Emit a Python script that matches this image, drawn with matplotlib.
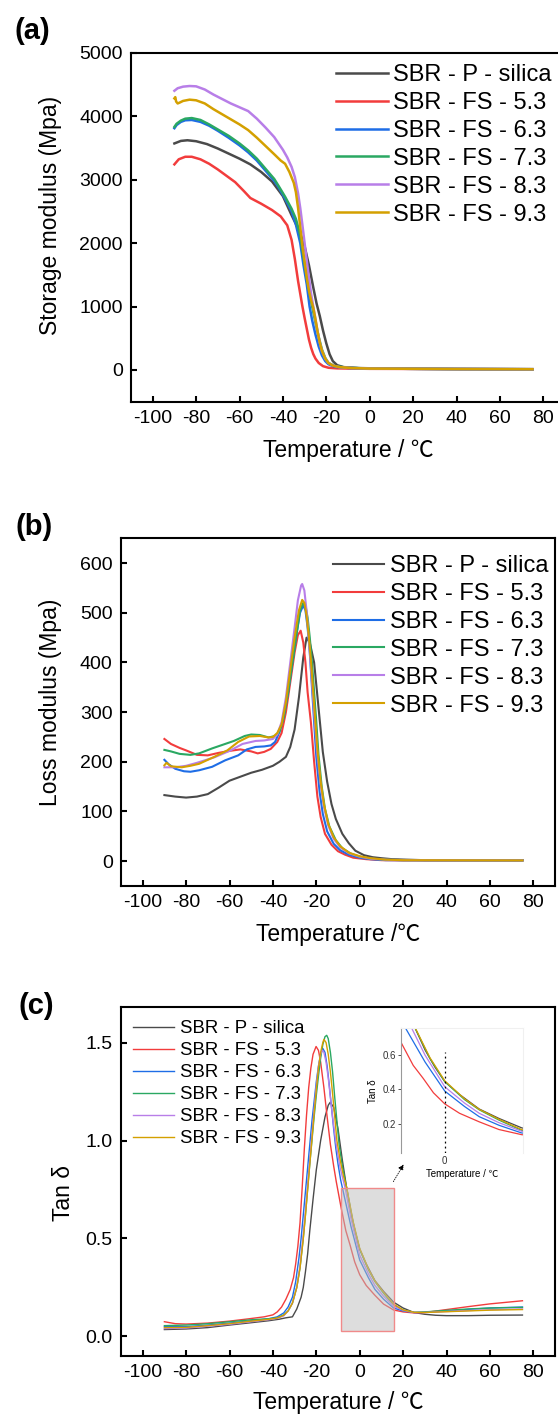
import matplotlib
matplotlib.use("Agg")
import matplotlib.pyplot as plt
from matplotlib.patches import Rectangle, FancyArrowPatch

plt.rcParams['font.family'] = ['Liberation Sans', 'Noto Sans CJK SC', 'DejaVu Sans']
plt.rcParams['axes.unicode_minus'] = False

## Sample names and colours
names = ["SBR - P - silica", "SBR - FS - 5.3", "SBR - FS - 6.3",
         "SBR - FS - 7.3", "SBR - FS - 8.3", "SBR - FS - 9.3"]
colors = ["#4a4a4a", "#f23c3c", "#1e6de6", "#2aa862", "#b87ee8", "#d4a000"]

## (a) storage modulus (MPa) vs temperature (C)
a_T_p = [-90, -87, -84, -80, -75, -70, -65, -60, -55, -50, -45, -40, -36, -34, -32, -30, -28, -26, -24.5, -23, -21.5, -20, -18.5, -17, -15, -12, -5, 10, 40, 75]
a_E_p = [3570, 3610, 3620, 3605, 3560, 3490, 3410, 3330, 3240, 3120, 2970, 2740, 2440, 2300, 2150, 1950, 1650, 1300, 1050, 850, 620, 420, 250, 140, 75, 45, 30, 20, 15, 12]
a_T_53 = [-90, -88, -85, -82, -78, -74, -70, -66, -62, -58, -55, -50, -45, -41, -38, -36, -34.5, -33, -32, -31, -30, -29, -28, -27, -26, -25, -23.5, -21.5, -19, -15, 0, 40, 75]
a_E_53 = [3240, 3320, 3360, 3360, 3320, 3250, 3160, 3060, 2960, 2820, 2710, 2620, 2520, 2420, 2280, 2050, 1750, 1400, 1200, 1000, 820, 650, 480, 350, 250, 180, 110, 60, 35, 25, 18, 15, 12]
a_T_63 = [-90, -89, -87, -85, -82, -78, -74, -70, -65, -60, -56, -52, -48, -44, -42, -39, -36, -34, -32, -30.5, -29, -27.7, -26.5, -25, -23.5, -22, -20.5, -19, -16, -10, 0, 40, 75]
a_E_63 = [3810, 3860, 3910, 3935, 3940, 3910, 3850, 3770, 3660, 3540, 3430, 3300, 3140, 2980, 2880, 2700, 2500, 2290, 2000, 1650, 1350, 1000, 780, 560, 370, 230, 140, 90, 50, 32, 22, 15, 12]
a_T_73 = [-90, -89, -87, -85, -82, -78, -74, -70, -65, -60, -56, -52, -48, -44, -42, -39, -36, -34, -32, -30.5, -29, -27.5, -26.5, -25, -23.5, -22, -20.5, -19, -16, -10, 0, 40, 75]
a_E_73 = [3830, 3880, 3930, 3960, 3970, 3940, 3870, 3790, 3690, 3570, 3460, 3330, 3170, 3010, 2900, 2730, 2540, 2380, 2120, 1780, 1450, 1180, 1000, 750, 520, 320, 190, 110, 60, 35, 22, 15, 12]
a_T_83 = [-90, -88.5, -86, -83, -80, -76, -72, -68, -64, -60, -56, -52, -48, -44, -42, -40, -38, -36, -34.5, -33, -32, -31, -30, -29, -28, -27, -26, -25, -24, -23, -22, -20.5, -19, -17, -14, -8, 0, 40, 75]
a_E_83 = [4400, 4440, 4465, 4475, 4470, 4420, 4340, 4270, 4200, 4140, 4080, 3960, 3820, 3670, 3570, 3470, 3350, 3200, 3040, 2780, 2550, 2280, 2000, 1720, 1450, 1200, 1000, 800, 600, 430, 300, 180, 110, 70, 45, 30, 22, 15, 12]
a_T_93 = [-90, -89.6, -89.2, -88.5, -87.5, -86, -83, -80, -76, -72, -68, -64, -60, -56, -52, -48, -44, -41, -39, -37, -35, -34, -33, -32, -31, -30, -29, -28, -27, -26, -25, -24, -23, -22, -20.5, -19, -17, -14, -8, 0, 40, 75]
a_E_93 = [4280, 4300, 4230, 4200, 4215, 4240, 4260, 4250, 4200, 4110, 4030, 3950, 3870, 3780, 3660, 3530, 3400, 3300, 3250, 3120, 2950, 2800, 2550, 2250, 1950, 1700, 1450, 1250, 1100, 980, 800, 600, 430, 300, 180, 110, 70, 45, 30, 22, 15, 12]

## (b) loss modulus (MPa) vs temperature (C)
b_T_p = [-90, -85, -80, -75, -70, -65, -60, -55, -50, -45, -40, -37, -34, -32, -30, -28, -26, -24.5, -23, -21, -19, -17, -15, -13, -11, -8, -5, -2, 2, 6, 10, 15, 22, 30, 50, 75]
b_E_p = [133, 130, 128, 130, 135, 148, 162, 170, 178, 184, 192, 200, 210, 230, 265, 330, 410, 450, 440, 400, 310, 220, 160, 115, 85, 55, 36, 21, 12, 8, 6, 4, 3, 2, 2, 2]
b_T_53 = [-90, -87, -83, -80, -75, -70, -65, -60, -55, -50, -47, -44, -41, -38, -36, -34, -32, -30, -28.5, -27.2, -26, -25, -24, -22.5, -21, -19.5, -18, -16, -13, -10, -6.7, -3, 3, 10, 20, 75]
b_E_53 = [246, 236, 228, 223, 214, 213, 218, 222, 225, 221, 217, 220, 226, 240, 258, 300, 360, 420, 455, 464, 440, 400, 340, 280, 200, 130, 89, 55, 33, 20, 13, 7, 4, 2, 1.5, 1.5]
b_T_63 = [-90, -88, -85, -81, -78, -74, -68, -62, -56, -52, -48, -44, -41, -39, -37, -35, -33, -31, -29, -27.5, -26, -25, -24, -23, -22, -21, -20, -18.5, -17, -15, -12, -9, -5, 0, 5, 12, 75]
b_E_63 = [204, 195, 186, 181, 180, 183, 190, 203, 213, 225, 230, 231, 233, 240, 260, 290, 340, 400, 460, 500, 515, 505, 470, 420, 350, 280, 210, 140, 95, 60, 35, 22, 13, 7, 4, 2, 1.5]
b_T_73 = [-90, -87, -83, -78, -74, -68, -64, -58, -53, -50, -46, -42, -39, -37, -35, -33, -31, -29, -27.5, -26, -25, -24, -23, -22, -21, -20, -19, -17.5, -16, -14, -11, -8, -4, 0, 5, 12, 20, 75]
b_E_73 = [224, 221, 216, 214, 217, 227, 233, 242, 252, 255, 254, 249, 252, 260, 290, 340, 400, 460, 505, 520, 515, 490, 450, 400, 340, 280, 215, 150, 105, 70, 42, 26, 15, 9, 5, 3, 2, 1.5]
b_T_83 = [-90, -85, -80, -75, -67, -60, -54, -48, -44, -40, -38, -36, -34, -32, -30, -28.5, -27, -26.5, -25.5, -24.5, -23.5, -22.5, -21.5, -20.5, -19.5, -18, -16.5, -14.5, -12, -9, -5, 0, 5, 12, 20, 75]
b_E_83 = [189, 189, 192, 198, 209, 222, 236, 242, 243, 246, 255, 280, 330, 400, 470, 525, 555, 558, 545, 505, 450, 390, 330, 270, 215, 155, 110, 72, 45, 28, 16, 9, 5, 3, 2, 1.5]
b_T_93 = [-90, -89, -87, -82, -78, -74, -67, -61, -56, -51, -46, -42, -40, -38, -36, -34, -32, -30, -28, -26.5, -25.5, -24.5, -23.5, -22.5, -21.5, -20.5, -19.5, -18, -16.5, -14.5, -12, -9, -5, 0, 5, 12, 20, 75]
b_E_93 = [193, 198, 191, 189, 192, 196, 210, 223, 240, 251, 252, 249, 250, 258, 275, 320, 385, 450, 505, 526, 520, 495, 455, 405, 345, 285, 225, 160, 115, 75, 48, 30, 17, 10, 6, 3, 2, 1.5]

## (c) tan delta vs temperature (C)
c_T_p = [-90, -80, -70, -60, -50, -42, -37, -34, -31, -29, -27, -26, -25, -24, -23, -21.5, -20, -18, -16, -14.5, -13.6, -12, -10, -8, -6, -4, -2, 0, 3, 7, 11, 15.6, 20, 25, 30, 35, 40, 50, 60, 75]
c_D_p = [0.035, 0.038, 0.045, 0.058, 0.07, 0.08, 0.088, 0.095, 0.1, 0.14, 0.2, 0.25, 0.33, 0.42, 0.54, 0.7, 0.85, 1.0, 1.12, 1.18, 1.195, 1.17, 1.06, 0.9, 0.757, 0.63, 0.53, 0.445, 0.37, 0.285, 0.23, 0.175, 0.145, 0.122, 0.113, 0.108, 0.106, 0.106, 0.108, 0.109]
c_T_53 = [-90, -85, -80, -70, -60, -51, -44, -40, -38, -36, -34, -32, -30.5, -29.5, -28.5, -27.5, -26.5, -25.5, -24.5, -23.5, -22.5, -21.5, -20.1, -19, -18, -16.5, -15, -13.5, -12, -10.8, -8.7, -6.4, -4.4, -2.3, 0, 3, 7, 11, 15.6, 20, 25, 30, 40, 50, 60, 75]
c_D_53 = [0.075, 0.065, 0.063, 0.068, 0.078, 0.09, 0.1, 0.11, 0.125, 0.15, 0.19, 0.24, 0.3, 0.37, 0.46, 0.58, 0.76, 0.96, 1.13, 1.27, 1.37, 1.44, 1.48, 1.46, 1.4, 1.27, 1.12, 0.98, 0.87, 0.79, 0.665, 0.54, 0.465, 0.38, 0.315, 0.26, 0.21, 0.165, 0.135, 0.125, 0.12, 0.122, 0.137, 0.152, 0.166, 0.182]
c_T_63 = [-90, -80, -70, -60, -50, -42, -38, -35, -33, -31, -29.5, -28, -27, -26, -25, -24, -23, -22, -21, -20, -19, -18, -17, -16, -15, -14, -13, -12, -11, -10, -8.8, -7.6, -4, 0, 4, 7, 11, 15.6, 20, 25, 30, 40, 50, 60, 75]
c_D_63 = [0.05, 0.05, 0.058, 0.068, 0.08, 0.09, 0.1, 0.12, 0.15, 0.2, 0.28, 0.4, 0.5, 0.62, 0.74, 0.86, 0.98, 1.1, 1.2, 1.3, 1.38, 1.44, 1.47, 1.45, 1.38, 1.28, 1.17, 1.06, 0.96, 0.88, 0.8, 0.74, 0.56, 0.39, 0.3, 0.24, 0.19, 0.145, 0.13, 0.122, 0.123, 0.13, 0.138, 0.145, 0.15]
c_T_73 = [-90, -80, -70, -60, -50, -42, -38, -35, -33, -31, -29, -27.5, -26, -25, -24, -23, -22, -21, -20, -19, -18, -17, -16, -15.2, -14.5, -13.5, -12.5, -11.5, -10.5, -9.5, -8, -6, -3, 0, 4, 7, 11, 15.6, 20, 25, 30, 40, 50, 60, 75]
c_D_73 = [0.055, 0.058, 0.065, 0.075, 0.085, 0.09, 0.095, 0.11, 0.13, 0.17, 0.25, 0.35, 0.5, 0.62, 0.75, 0.88, 1.0, 1.12, 1.23, 1.33, 1.42, 1.49, 1.53, 1.537, 1.52, 1.45, 1.35, 1.22, 1.1, 0.98, 0.87, 0.757, 0.58, 0.445, 0.34, 0.28, 0.22, 0.16, 0.135, 0.123, 0.125, 0.133, 0.14, 0.145, 0.148]
c_T_83 = [-90, -80, -70, -60, -50, -42, -38, -35, -33, -31, -29, -27.5, -26, -25, -24, -23, -22, -21, -20, -19, -18, -17.4, -16.5, -15.5, -14.5, -13.5, -12.5, -11, -9, -6.7, -4, 0, 4, 7, 11, 15.6, 20, 25, 30, 40, 50, 60, 75]
c_D_83 = [0.04, 0.043, 0.052, 0.062, 0.075, 0.085, 0.092, 0.105, 0.13, 0.17, 0.25, 0.36, 0.52, 0.64, 0.77, 0.9, 1.03, 1.16, 1.28, 1.38, 1.44, 1.462, 1.45, 1.4, 1.32, 1.22, 1.12, 0.99, 0.86, 0.757, 0.6, 0.415, 0.32, 0.26, 0.205, 0.155, 0.133, 0.122, 0.122, 0.127, 0.132, 0.136, 0.14]
c_T_93 = [-90, -80, -70, -60, -50, -42, -38, -35, -33, -31, -29, -27.5, -26, -25, -24, -23, -22, -21, -20, -19, -18, -17, -16.5, -15.5, -14.5, -13.5, -12.5, -11.5, -10.5, -9, -7.5, -6, -3, 0, 4, 7, 11, 15.6, 20, 25, 30, 40, 50, 60, 75]
c_D_93 = [0.045, 0.046, 0.055, 0.065, 0.078, 0.087, 0.094, 0.108, 0.13, 0.17, 0.25, 0.35, 0.5, 0.62, 0.75, 0.88, 1.01, 1.14, 1.26, 1.37, 1.45, 1.5, 1.516, 1.5, 1.44, 1.35, 1.24, 1.12, 1.0, 0.9, 0.82, 0.76, 0.585, 0.45, 0.345, 0.283, 0.225, 0.165, 0.135, 0.123, 0.122, 0.126, 0.13, 0.134, 0.137]

a_series = [(a_T_p, a_E_p), (a_T_53, a_E_53), (a_T_63, a_E_63), (a_T_73, a_E_73), (a_T_83, a_E_83), (a_T_93, a_E_93)]
b_series = [(b_T_p, b_E_p), (b_T_53, b_E_53), (b_T_63, b_E_63), (b_T_73, b_E_73), (b_T_83, b_E_83), (b_T_93, b_E_93)]
c_series = [(c_T_p, c_D_p), (c_T_53, c_D_53), (c_T_63, c_D_63), (c_T_73, c_D_73), (c_T_83, c_D_83), (c_T_93, c_D_93)]

W, H = 558, 1416
fig = plt.figure(figsize=(W / 100, H / 100), dpi=100)

def px_axes(left, top, right, bottom):
    return fig.add_axes([left / W, 1 - bottom / H, (right - left) / W, (bottom - top) / H])

def style_axes(ax):
    for s in ["top", "bottom", "left", "right"]:
        ax.spines[s].set_linewidth(1.5)
        ax.spines[s].set_color("black")
    ax.tick_params(axis="both", direction="in", length=4.5, width=1.5, labelsize=14, pad=6,
                   top=False, right=False)
    ax.set_xlim(-110, 90)
    ax.set_xticks(range(-100, 81, 20))

def place_labels(ax, box, xlab_y, ylab_x, ylab_y):
    ## label centres given in figure pixels
    left, top, right, bottom = box
    ax.xaxis.set_label_coords(0.5, -(xlab_y - bottom) / (bottom - top))
    ax.yaxis.set_label_coords(-(left - ylab_x) / (right - left), (bottom - ylab_y) / (bottom - top))
    ax.xaxis.label.set_verticalalignment("center")
    ax.yaxis.label.set_verticalalignment("center")

def add_legend(ax, x, y, fs, hl, ls, tp):
    ax.legend(loc="upper left", bbox_to_anchor=(x / W, 1 - y / H), bbox_transform=fig.transFigure,
              frameon=False, fontsize=fs, handlelength=hl, handletextpad=tp,
              labelspacing=ls, borderpad=0, borderaxespad=0)

## (a)
A = (131, 52.7, 565, 401.7)
ax1 = px_axes(*A)
for (T, E), c, n in zip(a_series, colors, names):
    ax1.plot(T, E, color=c, lw=1.8, label=n)
style_axes(ax1)
ax1.set_ylim(-500, 5000)
ax1.set_yticks(range(0, 5001, 1000))
ax1.set_xlabel("Temperature / ℃", fontsize=16.5)
ax1.set_ylabel("Storage modulus (Mpa)", fontsize=16.5)
place_labels(ax1, A, 450, 51, 215)
add_legend(ax1, 336, 64, 17, 2.2, 0.25, 0.22)
fig.text(32 / W, 1 - 31 / H, "(a)", fontsize=21, fontweight="bold", ha="center", va="center")

## (b)
B = (121, 538.3, 555, 886)
ax2 = px_axes(*B)
for (T, E), c, n in zip(b_series, colors, names):
    ax2.plot(T, E, color=c, lw=1.5, label=n)
style_axes(ax2)
ax2.set_ylim(-50, 650)
ax2.set_yticks(range(0, 601, 100))
ax2.set_xlabel("Temperature /℃", fontsize=16.5)
ax2.set_ylabel("Loss modulus (Mpa)", fontsize=16.5)
place_labels(ax2, B, 935, 51, 702)
add_legend(ax2, 333, 555, 17, 2.15, 0.25, 0.25)
fig.text(34 / W, 1 - 527 / H, "(b)", fontsize=21, fontweight="bold", ha="center", va="center")

## (c)
C = (121, 1007.3, 555, 1356)
ax3 = px_axes(*C)
for (T, D), c, n in zip(c_series, colors, names):
    ax3.plot(T, D, color=c, lw=1.0, label=n)
style_axes(ax3)
ax3.set_ylim(-0.1, 1.68)
ax3.set_yticks([0.0, 0.5, 1.0, 1.5])
ax3.set_yticklabels(["0.0", "0.5", "1.0", "1.5"])
ax3.set_xlabel("Temperature / ℃", fontsize=16.5)
ax3.set_ylabel("Tan δ", fontsize=16.5)
place_labels(ax3, C, 1403, 64, 1193)
add_legend(ax3, 133, 1020, 13.4, 2.2, 0.27, 0.3)
fig.text(36 / W, 1 - 1006 / H, "(c)", fontsize=21, fontweight="bold", ha="center", va="center")

## zoom box
box_x0, box_x1, box_y0, box_y1 = -8.8, 15.9, 0.026, 0.757
ax3.add_patch(Rectangle((box_x0, box_y0), box_x1 - box_x0, box_y1 - box_y0,
                        facecolor="#bdbdbd", alpha=0.5, edgecolor="none", zorder=5))
ax3.add_patch(Rectangle((box_x0, box_y0), box_x1 - box_x0, box_y1 - box_y0,
                        facecolor="none", edgecolor="#f08a8a", lw=1.0, zorder=6))

## inset
axi = px_axes(401.4, 1028.3, 523.1, 1153.3)
for (T, D), c in zip(c_series, colors):
    axi.plot(T, D, color=c, lw=0.9)
axi.set_xlim(box_x0, box_x1)
axi.set_ylim(box_y0, box_y1)
axi.axvline(0, ymin=0, ymax=0.81, color="black", ls=(0, (1.5, 2.5)), lw=0.9)
axi.set_xticks([0])
axi.set_yticks([0.2, 0.4, 0.6])
axi.tick_params(axis="both", labelsize=7, length=2, width=0.6, pad=2, colors="#333333")
axi.tick_params(axis="x", length=0)
axi.spines["bottom"].set_visible(False)
axi.spines["top"].set_color("#f0f0f0")
axi.spines["right"].set_color("#f0f0f0")
axi.spines["left"].set_color("#999999")
axi.set_xlabel("Temperature / ℃", fontsize=7, labelpad=2)
axi.set_ylabel("Tan δ", fontsize=7, labelpad=3)
axi.patch.set_alpha(0.0)

fig.add_artist(FancyArrowPatch(
    (392 / W, 1 - 1184 / H), (405 / W, 1 - 1162 / H), transform=fig.transFigure,
    arrowstyle="-|>", mutation_scale=8, color="black", lw=0.6, linestyle=":"))

fig.savefig("out.png", dpi=100)
